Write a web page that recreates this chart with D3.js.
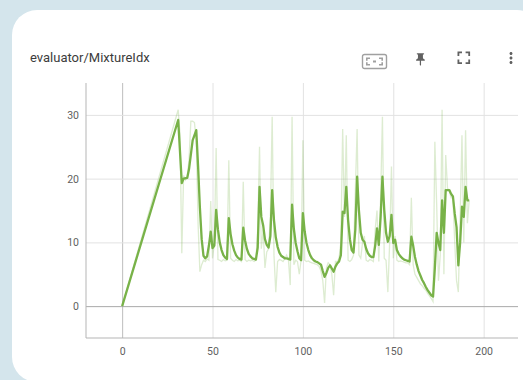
<!DOCTYPE html>
<html>
<head>
<meta charset="utf-8">
<script src="https://cdn.jsdelivr.net/npm/d3@7"></script>
<style>
  body { margin: 0; background: #d4e5ec; }
  svg { display: block; font-family: Roboto, "Noto Sans", sans-serif; }
</style>
</head>
<body>
<svg id="chart"></svg>
<script>
var title = "evaluator/MixtureIdx";

var xTicks = [0, 50, 100, 150, 200];
var yTicks = [0, 10, 20, 30];

// raw points [step, value]
var raw = [
  [0,0],[31,30.8],[32,27],[33,8.3],[34,20.5],[35,19.8],[36,20.3],[37,23],[38,29],[39,29],
  [40,28.8],[41,26],[42,13],[43,5.4],[44,6.5],[45,7.2],[46,7.0],[47,7.4],[48,7.2],[49,16.5],
  [50,7.5],[51,9.8],[52,24.8],[53,7.3],[54,7.2],[55,7.0],[56,7.3],[57,7.1],[58,7.2],[59,22.9],
  [60,7.5],[61,7.2],[62,7.0],[63,7.3],[64,7.1],[65,7.2],[66,7.0],[67,19.5],[68,7.3],[69,7.0],
  [70,7.2],[71,7.1],[72,7.2],[73,7.0],[74,7.2],[75,12],[76,25],[77,9],[78,12],[79,6],
  [80,8.5],[81,9],[82,14],[83,29.7],[84,8],[85,2.2],[86,7.0],[87,7.3],[88,7.2],[89,7.0],
  [90,7.5],[91,8],[92,7.2],[93,3.3],[94,29.7],[95,6.5],[96,7.2],[97,7.0],[98,5],[99,7.2],
  [100,26],[101,7.2],[102,7.0],[103,7.1],[104,6.9],[105,6.8],[106,6.7],[107,6.6],[108,6.5],[109,6.2],
  [110,5.5],[111,4],[112,0.5],[113,6],[114,6.8],[115,6.5],[116,5],[117,1.7],[118,7.0],[119,7.0],
  [120,7.5],[121,10],[122,27.8],[123,14],[124,26.8],[125,7.2],[126,7.0],[127,7.3],[128,8],[129,18],
  [130,27.8],[131,8],[132,7.5],[133,10],[134,11],[135,7.2],[136,7.0],[137,7.3],[138,7.2],[139,7.0],
  [140,12],[141,15],[142,7],[143,17],[144,29.7],[145,7.5],[146,7.2],[147,2.2],[148,10],[149,21.9],
  [150,7.5],[151,11],[152,7.2],[153,7.0],[154,7.1],[155,7.0],[156,6.9],[157,6.8],[158,6.8],[159,6.5],
  [160,17],[161,6.5],[162,5],[163,4.5],[164,4],[165,3.5],[166,3.2],[167,2.8],[168,2.5],[169,2],
  [170,1.6],[171,1.2],[172,0.7],[173,25.8],[174,16],[175,4],[176,8],[177,30.8],[178,5],[179,23.7],
  [180,18.5],[181,18],[182,17],[183,17],[184,10],[185,4],[186,2.2],[187,14],[188,26.8],[189,10],
  [190,27.6],[191,13],[192,16.6]
];

// smoothed points [step, value]
var smoothed = [
  [0,0],[31,29.2],[33,19.3],[34,20.0],[36,20.1],[37,21.5],[39,26],[41,27.6],[42,22],[43,15.5],
  [44,10.5],[45,7.9],[46,7.5],[47,7.8],[48,9.5],[49,11.7],[50,9.1],[51,9.5],[52,15.1],[53,12],
  [54,10],[55,8.8],[56,8],[57,7.6],[58,7.4],[59,13.8],[60,11.3],[61,9.7],[62,8.7],[63,8.0],
  [64,7.6],[65,7.4],[66,7.3],[67,12.3],[68,10.3],[69,9],[70,8.2],[71,7.8],[72,7.5],[73,7.4],
  [74,7.3],[75,9.2],[76,18.7],[77,14],[78,12.7],[79,10.5],[80,9.6],[81,9.2],[82,11],[83,18.2],
  [84,13.5],[85,10.8],[86,9.3],[87,8.4],[88,7.9],[89,7.7],[90,7.5],[91,7.5],[92,7.4],[93,7.3],
  [94,15.9],[95,12.1],[96,9.9],[97,8.6],[98,7.5],[99,7.2],[100,14.6],[101,11.7],[102,9.9],[103,8.8],
  [104,8.0],[105,7.5],[106,7.2],[107,7.0],[108,6.9],[109,6.7],[110,6.5],[111,5.5],[112,4.6],[113,5.2],
  [114,6.0],[115,6.4],[116,5.9],[117,5.4],[118,6.2],[119,6.7],[120,7],[121,8],[122,14.8],[123,14.6],
  [124,18.7],[125,13.5],[126,10.5],[127,8.8],[128,8.4],[129,12],[130,20.3],[131,15],[132,11.5],[133,10.4],
  [134,10.1],[135,9],[136,8.3],[137,7.9],[138,7.7],[139,7.7],[140,9.5],[141,12.2],[142,9.6],[143,14],
  [144,20.3],[145,15.1],[146,11.5],[147,10.1],[148,11],[149,14.3],[150,9.9],[151,10.4],[152,8.8],[153,8.2],
  [154,7.8],[155,7.5],[156,7.3],[157,7.2],[158,7.1],[159,7.0],[160,10.9],[161,9.5],[162,7.7],[163,6.5],
  [164,5.5],[165,4.8],[166,4.1],[167,3.6],[168,3.0],[169,2.5],[170,2.1],[171,1.7],[172,1.5],[173,6],
  [174,11.5],[175,9.9],[176,8.8],[177,16.6],[178,11.5],[179,18.2],[180,18.2],[181,18.2],[182,17.6],[183,17.2],
  [184,14.5],[185,12.4],[186,6.4],[187,10],[188,15.6],[189,14.0],[190,18.7],[191,16.6],[192,16.6]
];

var W = 523, H = 380;
var plot = { left: 86, right: 518, top: 83, bottom: 338 };
var green = "#78b248";

var svg = d3.select("#chart").attr("width", W).attr("height", H);

// card
svg.append("rect")
    .attr("x", 12).attr("y", 10)
    .attr("width", 530).attr("height", 372)
    .attr("rx", 25).attr("ry", 25)
    .attr("fill", "#ffffff");

svg.append("text")
    .attr("x", 30).attr("y", 62)
    .attr("font-size", 13)
    .attr("fill", "#3c3c3c")
    .text(title);

// toolbar icons
var icons = svg.append("g").attr("fill", "#616161");
var fit = icons.append("g").attr("transform", "translate(362,54)");
fit.append("rect").attr("x", 0.5).attr("y", 0.5).attr("width", 24).attr("height", 14)
    .attr("rx", 2).attr("fill", "none").attr("stroke", "#a0a0a0").attr("stroke-width", 1.4);
fit.append("path")
    .attr("d", "M4 3.5h4v1.6H5.6v1.6H4z M21 3.5h-4v1.6h2.4v1.6H21z M4 11.5h4V9.9H5.6V8.3H4z M21 11.5h-4V9.9h2.4V8.3H21z M11 6.5h3v2h-3z")
    .attr("fill", "#a0a0a0");
icons.append("path")
    .attr("transform", "translate(413,52) scale(0.62)")
    .attr("d", "M16 9V4h1c.55 0 1-.45 1-1s-.45-1-1-1H7c-.55 0-1 .45-1 1s.45 1 1 1h1v5c0 1.66-1.34 3-3 3v2h5.97v7l1 1 1-1v-7H19v-2c-1.66 0-3-1.34-3-3z");
icons.append("path")
    .attr("transform", "translate(453,47) scale(0.9)")
    .attr("d", "M7 14H5v5h5v-2H7v-3zm-2-4h2V7h3V5H5v5zm12 7h-3v2h5v-5h-2v3zM14 5v2h3v3h2V5h-5z");
icons.append("path")
    .attr("transform", "translate(502,49) scale(0.75)")
    .attr("d", "M12 8c1.1 0 2-.9 2-2s-.9-2-2-2-2 .9-2 2 .9 2 2 2zm0 2c-1.1 0-2 .9-2 2s.9 2 2 2 2-.9 2-2-.9-2-2-2zm0 6c-1.1 0-2 .9-2 2s.9 2 2 2 2-.9 2-2-.9-2-2-2z");

var xScale = d3.scaleLinear().domain([-20, 219]).range([plot.left, plot.right]);
var yScale = d3.scaleLinear().domain([-5, 35]).range([plot.bottom, plot.top]);

// grid
var grid = svg.append("g");
grid.append("g")
    .attr("transform", "translate(0," + plot.bottom + ")")
    .call(d3.axisBottom(xScale).tickValues(xTicks).tickSize(-(plot.bottom - plot.top)).tickFormat(""))
    .call(function(g) { g.select(".domain").remove(); })
    .selectAll("line")
    .attr("stroke", function(d) { return d === 0 ? "#bdbdbd" : "#e2e2e2"; });
grid.append("g")
    .attr("transform", "translate(" + plot.left + ",0)")
    .call(d3.axisLeft(yScale).tickValues(yTicks).tickSize(-(plot.right - plot.left)).tickFormat(""))
    .call(function(g) { g.select(".domain").remove(); })
    .selectAll("line")
    .attr("stroke", function(d) { return d === 0 ? "#aaaaaa" : "#e2e2e2"; });

// axis lines
svg.append("line")
    .attr("x1", plot.left).attr("x2", plot.left)
    .attr("y1", plot.top).attr("y2", plot.bottom)
    .attr("stroke", "#b5b5b5");
svg.append("line")
    .attr("x1", plot.left).attr("x2", plot.right)
    .attr("y1", plot.bottom).attr("y2", plot.bottom)
    .attr("stroke", "#b5b5b5");

// tick labels
var yAxis = svg.append("g")
    .attr("transform", "translate(" + plot.left + ",0)")
    .call(d3.axisLeft(yScale).tickValues(yTicks).tickSize(0).tickPadding(7));
var xAxis = svg.append("g")
    .attr("transform", "translate(0," + plot.bottom + ")")
    .call(d3.axisBottom(xScale).tickValues(xTicks).tickSize(0).tickPadding(10));
[xAxis, yAxis].forEach(function(a) {
    a.select(".domain").remove();
    a.selectAll("text")
        .attr("font-family", "Roboto, sans-serif")
        .attr("font-size", 10.5)
        .attr("fill", "#5f5f5f");
});

var line = d3.line()
    .x(function(d) { return xScale(d[0]); })
    .y(function(d) { return yScale(d[1]); });

svg.append("path")
    .datum(raw)
    .attr("d", line)
    .attr("fill", "none")
    .attr("stroke", green)
    .attr("stroke-opacity", 0.25)
    .attr("stroke-width", 1.3);

svg.append("path")
    .datum(smoothed)
    .attr("d", line)
    .attr("fill", "none")
    .attr("stroke", green)
    .attr("stroke-width", 2.3)
    .attr("stroke-linejoin", "round");
</script>
</body>
</html>
